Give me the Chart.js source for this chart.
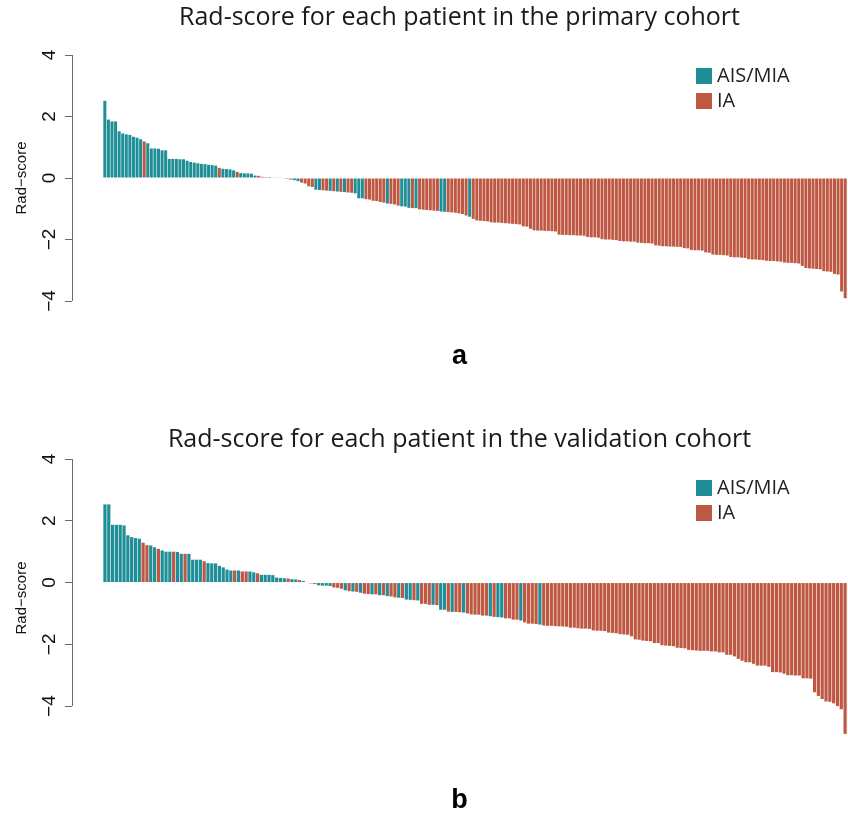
<!DOCTYPE html>
<html>
<head>
<meta charset="utf-8">
<script src="https://cdn.jsdelivr.net/npm/chart.js@4.4.1/dist/chart.umd.min.js"></script>
<style>
    html, body { margin: 0; padding: 0; background: #fff; overflow: hidden; }
    .panel { position: absolute; left: 0; width: 848px; }
    #panelA { top: 0; height: 423px; }
    #panelB { top: 423px; height: 391px; }
</style>
</head>
<body>
<div class="panel" id="panelA"><canvas id="chartA"></canvas></div>
<div class="panel" id="panelB"><canvas id="chartB"></canvas></div>
<script>
// group codes: 0 = AIS/MIA, 1 = IA
const groupNames = ['AIS/MIA', 'IA'];
const groupColors = ['#1F8E96', '#BF5843'];
const yTicks = [-4, -2, 0, 2, 4];

// primary cohort, sorted rad-scores
const scoresPrimary = [
    2.51, 1.90, 1.84, 1.84, 1.52, 1.45, 1.42, 1.40, 1.34, 1.31,
    1.26, 1.19, 1.13, 0.96, 0.96, 0.95, 0.90, 0.90, 0.62, 0.62,
    0.62, 0.61, 0.61, 0.56, 0.52, 0.50, 0.48, 0.46, 0.45, 0.43,
    0.42, 0.40, 0.33, 0.30, 0.29, 0.28, 0.25, 0.20, 0.16, 0.15,
    0.15, 0.14, 0.08, 0.07, 0.04, 0.03, 0.03, 0.02, 0.02, 0.01,
    -0.01, -0.03, -0.05, -0.07, -0.10, -0.15, -0.18, -0.27, -0.29, -0.38,
    -0.39, -0.40, -0.41, -0.42, -0.43, -0.44, -0.45, -0.46, -0.47, -0.48,
    -0.50, -0.66, -0.66, -0.69, -0.70, -0.74, -0.75, -0.78, -0.80, -0.83,
    -0.84, -0.86, -0.90, -0.92, -0.93, -0.97, -0.98, -0.98, -1.02, -1.03,
    -1.04, -1.05, -1.06, -1.07, -1.09, -1.10, -1.11, -1.12, -1.13, -1.15,
    -1.17, -1.22, -1.26, -1.33, -1.38, -1.39, -1.40, -1.41, -1.44, -1.45,
    -1.45, -1.46, -1.47, -1.48, -1.49, -1.50, -1.51, -1.57, -1.58, -1.65,
    -1.70, -1.71, -1.71, -1.72, -1.72, -1.73, -1.74, -1.84, -1.85, -1.85,
    -1.86, -1.86, -1.87, -1.87, -1.88, -1.92, -1.93, -1.93, -1.94, -1.99,
    -2.00, -2.00, -2.01, -2.02, -2.05, -2.06, -2.06, -2.07, -2.07, -2.10,
    -2.11, -2.12, -2.12, -2.13, -2.19, -2.20, -2.22, -2.22, -2.23, -2.23,
    -2.24, -2.24, -2.28, -2.29, -2.34, -2.35, -2.35, -2.36, -2.42, -2.43,
    -2.49, -2.50, -2.50, -2.51, -2.52, -2.57, -2.58, -2.58, -2.59, -2.60,
    -2.64, -2.65, -2.65, -2.66, -2.67, -2.69, -2.70, -2.70, -2.71, -2.72,
    -2.75, -2.76, -2.76, -2.77, -2.78, -2.86, -2.93, -2.94, -2.95, -2.96,
    -2.97, -3.03, -3.04, -3.05, -3.12, -3.14, -3.69, -3.91
];
const groupPrimary = [
    0, 0, 0, 0, 0, 0, 0, 0, 0, 0,
    0, 1, 0, 0, 0, 0, 0, 0, 0, 0,
    0, 0, 0, 0, 0, 0, 0, 0, 0, 0,
    0, 0, 1, 0, 0, 0, 0, 1, 0, 0,
    0, 0, 0, 1, 1, 1, 0, 1, 0, 1,
    1, 0, 1, 0, 0, 1, 1, 1, 1, 0,
    0, 1, 1, 0, 1, 0, 1, 0, 1, 1,
    0, 0, 0, 1, 1, 1, 1, 1, 1, 0,
    1, 1, 1, 0, 0, 0, 1, 0, 1, 1,
    1, 1, 1, 1, 0, 0, 1, 1, 1, 1,
    1, 1, 0, 1, 1, 1, 1, 1, 1, 1,
    1, 1, 1, 1, 1, 1, 1, 1, 1, 1,
    1, 1, 1, 1, 1, 1, 1, 1, 1, 1,
    1, 1, 1, 1, 1, 1, 1, 1, 1, 1,
    1, 1, 1, 1, 1, 1, 1, 1, 1, 1,
    1, 1, 1, 1, 1, 1, 1, 1, 1, 1,
    1, 1, 1, 1, 1, 1, 1, 1, 1, 1,
    1, 1, 1, 1, 1, 1, 1, 1, 1, 1,
    1, 1, 1, 1, 1, 1, 1, 1, 1, 1,
    1, 1, 1, 1, 1, 1, 1, 1, 1, 1,
    1, 1, 1, 1, 1, 1, 1, 1
];

// validation cohort
const scoresValidation = [
    2.53, 2.53, 1.87, 1.87, 1.87, 1.85, 1.53, 1.47, 1.44, 1.42,
    1.29, 1.21, 1.20, 1.14, 1.09, 1.04, 1.00, 1.00, 1.00, 0.99,
    0.93, 0.93, 0.93, 0.74, 0.74, 0.74, 0.69, 0.63, 0.62, 0.62,
    0.54, 0.49, 0.42, 0.39, 0.39, 0.39, 0.36, 0.36, 0.36, 0.33,
    0.30, 0.25, 0.25, 0.25, 0.24, 0.16, 0.15, 0.14, 0.13, 0.11,
    0.10, 0.08, 0.05, 0.02, -0.03, -0.05, -0.09, -0.10, -0.10, -0.11,
    -0.16, -0.17, -0.20, -0.25, -0.28, -0.29, -0.30, -0.33, -0.36, -0.37,
    -0.38, -0.38, -0.41, -0.41, -0.44, -0.45, -0.48, -0.49, -0.50, -0.55,
    -0.56, -0.57, -0.58, -0.69, -0.69, -0.72, -0.72, -0.73, -0.88, -0.88,
    -0.94, -0.95, -0.95, -0.96, -0.97, -1.00, -1.03, -1.04, -1.04, -1.07,
    -1.07, -1.09, -1.11, -1.12, -1.13, -1.16, -1.16, -1.20, -1.20, -1.23,
    -1.29, -1.33, -1.33, -1.34, -1.36, -1.39, -1.40, -1.40, -1.41, -1.42,
    -1.42, -1.43, -1.46, -1.46, -1.48, -1.49, -1.49, -1.50, -1.55, -1.56,
    -1.56, -1.57, -1.62, -1.63, -1.64, -1.67, -1.68, -1.69, -1.74, -1.84,
    -1.85, -1.88, -1.89, -1.90, -1.96, -1.96, -2.03, -2.04, -2.05, -2.06,
    -2.11, -2.12, -2.13, -2.18, -2.19, -2.20, -2.21, -2.21, -2.21, -2.23,
    -2.23, -2.26, -2.26, -2.34, -2.34, -2.39, -2.47, -2.53, -2.58, -2.58,
    -2.63, -2.69, -2.69, -2.69, -2.73, -2.90, -2.90, -2.91, -2.95, -3.00,
    -3.00, -3.01, -3.01, -3.10, -3.10, -3.11, -3.55, -3.67, -3.77, -3.85,
    -3.86, -3.91, -4.00, -4.10, -4.90
];
const groupValidation = [
    0, 0, 0, 0, 0, 0, 0, 0, 0, 0,
    1, 1, 0, 0, 1, 0, 0, 0, 1, 0,
    0, 1, 0, 0, 0, 0, 1, 0, 0, 0,
    0, 0, 0, 0, 1, 0, 1, 1, 0, 0,
    1, 0, 0, 0, 0, 0, 0, 0, 1, 0,
    0, 1, 0, 0, 1, 1, 0, 0, 0, 0,
    1, 1, 1, 0, 1, 0, 1, 0, 1, 1,
    0, 1, 0, 1, 0, 1, 1, 0, 1, 0,
    0, 1, 0, 1, 1, 1, 0, 1, 0, 0,
    1, 0, 1, 1, 0, 1, 1, 1, 1, 1,
    1, 0, 1, 0, 0, 1, 1, 1, 1, 0,
    1, 1, 1, 1, 0, 1, 1, 1, 1, 1,
    1, 1, 1, 1, 1, 1, 1, 1, 1, 1,
    1, 1, 1, 1, 1, 1, 1, 1, 1, 1,
    1, 1, 1, 1, 1, 1, 1, 1, 1, 1,
    1, 1, 1, 1, 1, 1, 1, 1, 1, 1,
    1, 1, 1, 1, 1, 1, 1, 1, 1, 1,
    1, 1, 1, 1, 1, 1, 1, 1, 1, 1,
    1, 1, 1, 1, 1, 1, 1, 1, 1, 1,
    1, 1, 1, 1, 1
];

// y axis line only between first and last tick (R style) + the group key
const axisAndKey = {
    id: 'axisAndKey',
    afterDatasetsDraw(chart, args, opts) {
        const ctx = chart.ctx;
        const ys = chart.scales.y;
        const area = chart.chartArea;
        ctx.save();
        ctx.strokeStyle = '#6b6b6b';
        ctx.lineWidth = 1;
        ctx.beginPath();
        ctx.moveTo(area.left + 0.5, ys.getPixelForValue(yTicks[yTicks.length - 1]));
        ctx.lineTo(area.left + 0.5, ys.getPixelForValue(yTicks[0]));
        ctx.stroke();

        ctx.font = '20px "Open Sans"';
        ctx.textBaseline = 'middle';
        groupNames.forEach((name, i) => {
            const top = area.top + opts.keyTop + i * 25;
            ctx.fillStyle = groupColors[i];
            ctx.fillRect(area.right - 151, top, 16, 16);
            ctx.fillStyle = '#222';
            ctx.fillText(name, area.right - 130, top + 8);
        });
        ctx.restore();
    }
};

function makeChart(canvasId, scores, groups, cfg) {
    const points = scores.map((v, i) => ({ x: i, y: v }));
    return new Chart(document.getElementById(canvasId), {
        type: 'bar',
        data: {
            datasets: [{
                data: points,
                backgroundColor: groups.map(g => groupColors[g]),
                borderWidth: 0,
                barPercentage: 0.84,
                categoryPercentage: 1
            }]
        },
        options: {
            responsive: true,
            maintainAspectRatio: false,
            animation: false,
            layout: { padding: { left: 0, right: 1, top: 0, bottom: 0 } },
            plugins: {
                legend: { display: false },
                tooltip: { enabled: false },
                title: {
                    display: true,
                    fullSize: false,
                    text: cfg.title,
                    color: '#1a1a1a',
                    font: { family: '"Open Sans"', size: 25, weight: 'normal', lineHeight: 1.2 },
                    padding: cfg.titlePad
                },
                subtitle: {
                    display: true,
                    position: 'bottom',
                    fullSize: false,
                    text: cfg.tag,
                    color: '#000',
                    font: { family: '"Liberation Sans", Arial, sans-serif', size: 27, weight: 'bold', lineHeight: 1 },
                    padding: cfg.tagPad
                },
                axisAndKey: { keyTop: cfg.keyTop }
            },
            scales: {
                x: {
                    type: 'linear',
                    display: false,
                    offset: false,
                    bounds: 'data',
                    min: cfg.xMin,
                    max: scores.length - 0.5
                },
                y: {
                    min: cfg.yMin,
                    max: 4,
                    afterBuildTicks: s => { s.ticks = yTicks.map(v => ({ value: v })); },
                    afterFit: s => { s.width = 72; },
                    border: { display: false },
                    grid: { drawOnChartArea: false, drawTicks: true, tickLength: 7, color: '#6b6b6b' },
                    ticks: {
                        minRotation: 90,
                        maxRotation: 90,
                        crossAlign: 'center',
                        padding: 4,
                        color: '#111',
                        font: { family: '"Liberation Sans", Arial, sans-serif', size: 19 },
                        callback: v => (v < 0 ? '\u2212' + Math.abs(v) : String(v))
                    },
                    title: {
                        display: true,
                        text: 'Rad\u2212score',
                        color: '#111',
                        font: { family: '"Liberation Sans", Arial, sans-serif', size: 15 },
                        padding: { top: 13, bottom: 0 }
                    }
                }
            }
        },
        plugins: [axisAndKey]
    });
}

makeChart('chartA', scoresPrimary, groupPrimary, {
    title: 'Rad-score for each patient in the primary cohort',
    tag: 'a',
    titlePad: { top: 3, bottom: 22 },
    tagPad: { top: 42, bottom: 53 },
    keyTop: 13,
    xMin: -9.18,
    yMin: -4
});

makeChart('chartB', scoresValidation, groupValidation, {
    title: 'Rad-score for each patient in the validation cohort',
    tag: 'b',
    titlePad: { top: 2, bottom: 4 },
    tagPad: { top: 50, bottom: 0 },
    keyTop: 21,
    xMin: -8.64,
    yMin: -5
});
</script>
</body>
</html>
